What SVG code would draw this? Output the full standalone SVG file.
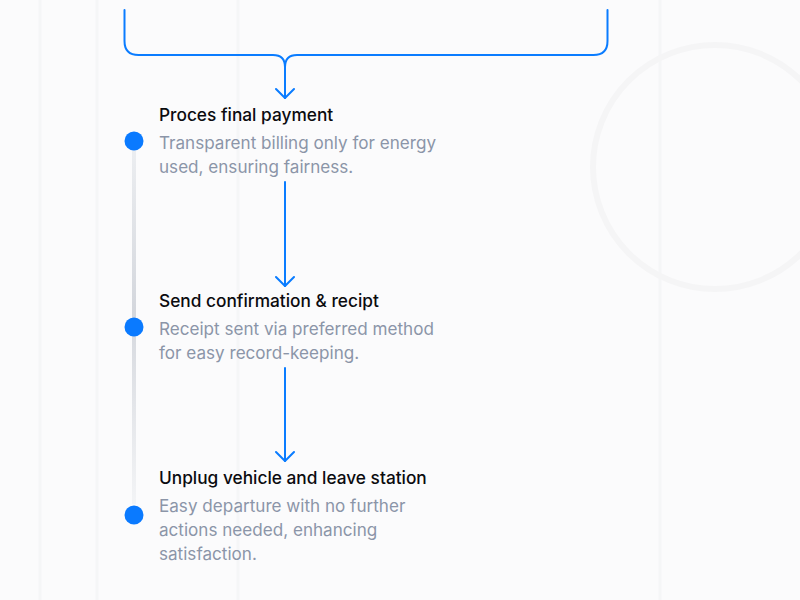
<svg xmlns="http://www.w3.org/2000/svg" width="800" height="600" viewBox="0 0 800 600">
<defs>
<style>
.title{font-family:Inter,"Liberation Sans",sans-serif;font-size:17.3px;font-weight:500;fill:#0b0b0f;}
.desc{font-family:Inter,"Liberation Sans",sans-serif;font-size:17.1px;fill:#8b95a8;}
.conn{fill:none;stroke:#0a7cff;stroke-width:2;stroke-linecap:round;stroke-linejoin:round;}
.dot{fill:#0a7aff;}
.guide{stroke:#f5f6f7;stroke-width:3;}
</style>
<linearGradient id="rail" x1="0" y1="0" x2="0" y2="1">
<stop offset="0" stop-color="#eceef1"/>
<stop offset="0.45" stop-color="#d4d7dd"/>
<stop offset="1" stop-color="#f3f4f6"/>
</linearGradient>
<marker id="arr" viewBox="0 0 12 20" refX="11" refY="10" markerWidth="12" markerHeight="20" markerUnits="userSpaceOnUse" orient="auto">
<path d="M2,1 L11,10 L2,19" fill="none" stroke="#0a7cff" stroke-width="2" stroke-linecap="round" stroke-linejoin="round"/>
</marker>
</defs>
<rect width="800" height="600" fill="#fbfbfc"/>
<g id="background">
<line class="guide" x1="40" y1="0" x2="40" y2="600"/>
<line class="guide" x1="97" y1="0" x2="97" y2="600"/>
<line class="guide" x1="238" y1="0" x2="238" y2="600"/>
<line class="guide" x1="660" y1="0" x2="660" y2="600"/>
<circle cx="715" cy="167" r="122" fill="none" stroke="#f5f5f6" stroke-width="6"/>
<rect x="132" y="148" width="4" height="356" fill="url(#rail)"/>
</g>
<g id="connectors">
<path class="conn" d="M124.5,10 V41 Q124.5,55 138.5,55 H273 Q285,55 285,67 Q285,55 297,55 H593.5 Q607.5,55 607.5,41 V10"/>
<path class="conn" d="M285,67 V98" marker-end="url(#arr)"/>
<path class="conn" d="M285,182 V286" marker-end="url(#arr)"/>
<path class="conn" d="M285,368 V461" marker-end="url(#arr)"/>
</g>
<g id="step1">
<circle class="dot" cx="134" cy="141" r="9.5"/>
<text class="title" x="159" y="121">Proces final payment</text>
<text class="desc" x="159" y="149">Transparent billing only for energy</text>
<text class="desc" x="159" y="173">used, ensuring fairness.</text>
</g>
<g id="step2">
<circle class="dot" cx="134" cy="327" r="9.5"/>
<text class="title" x="159" y="307">Send confirmation &amp; recipt</text>
<text class="desc" x="159" y="335">Receipt sent via preferred method</text>
<text class="desc" x="159" y="359">for easy record-keeping.</text>
</g>
<g id="step3">
<circle class="dot" cx="134" cy="515" r="9.5"/>
<text class="title" x="159" y="484">Unplug vehicle and leave station</text>
<text class="desc" x="159" y="512">Easy departure with no further</text>
<text class="desc" x="159" y="536">actions needed, enhancing</text>
<text class="desc" x="159" y="560">satisfaction.</text>
</g>
</svg>
